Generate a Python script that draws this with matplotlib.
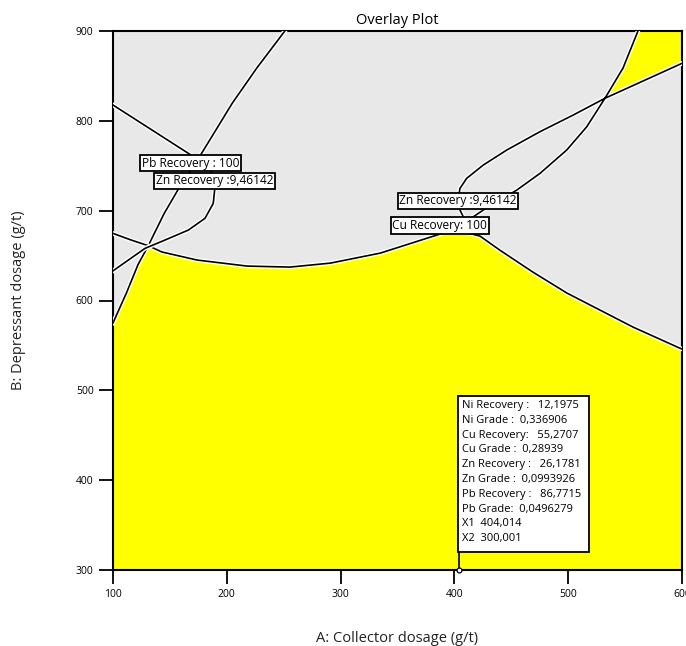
import numpy as np
import matplotlib
matplotlib.use('Agg')
import matplotlib.pyplot as plt
import matplotlib.patheffects as pe
from matplotlib.patches import Rectangle

plt.rcParams['font.family'] = ['Open Sans', 'DejaVu Sans']

# contour lines (A: collector, B: depressant)
pb_x = [100, 112, 122, 131, 145, 157, 176, 205, 226.5, 251]
pb_y = [575, 609, 640, 661, 697, 723, 760, 820, 859, 900]

cu_x = [100, 116, 131, 143, 174, 218, 255.5, 291, 335, 379, 400, 422.5,
        440, 469, 499, 528, 557, 598, 600]
cu_y = [674.7, 667.3, 661, 654, 645, 638.3, 637.2, 641.6, 652.8, 670.6, 679, 671.7,
        656, 631.6, 608.2, 589.3, 570.4, 547, 546]

znl_x = [100, 166, 182, 188, 189.6, 188.1, 180.8, 166.2, 145.7, 128.1, 100]
znl_y = [817.6, 764, 751, 740, 726.6, 708.1, 691.4, 678.4, 667.3, 658, 633]

znr_up_x = [600, 532.3, 504.5, 475.2, 446, 425.4, 410.8, 404.9, 403.2, 404.9, 407.8, 410.8]
znr_up_y = [864, 825.1, 806.5, 787.9, 767.5, 750.8, 736, 724.8, 711.8, 700.7, 693.2, 689.5]
znr_lo_x = [410.8, 416.6, 425.4, 454.8, 475.2, 498.7, 516.3, 532.3, 548.2, 561.3]
znr_lo_y = [689.5, 693.2, 700.7, 722.9, 741.5, 767.5, 793.4, 825.1, 858.8, 900]

cross_x = 532.3  # where the two arms of the right Zn curve cross
meet_x = 131     # where the Pb line meets the Cu curve

opt_a, opt_b = 404.014, 300.001
opt_lines = [
    "Ni Recovery :   12,1975",
    "Ni Grade :  0,336906",
    "Cu Recovery:   55,2707",
    "Cu Grade :  0,28939",
    "Zn Recovery :   26,1781",
    "Zn Grade :  0,0993926",
    "Pb Recovery :   86,7715",
    "Pb Grade:  0,0496279",
    "X1  404,014",
    "X2  300,001",
]

fig = plt.figure(figsize=(6.86, 6.46), dpi=100)
ax = fig.add_axes([113/686, 1-570/646, 569/686, 539/646])
ax.set_xlim(100, 600)
ax.set_ylim(300, 900)
ax.set_facecolor('#e8e8e8')

yellow = '#ffff00'
# main feasible region: right of the Pb line and under the Cu curve
pbx, pby = np.array(pb_x), np.array(pb_y)
cux, cuy = np.array(cu_x), np.array(cu_y)
keep_pb = pbx <= meet_x
keep_cu = cux > meet_x
poly_x = [100] + list(pbx[keep_pb]) + list(cux[keep_cu]) + [600]
poly_y = [300] + list(pby[keep_pb]) + list(cuy[keep_cu]) + [300]
ax.fill(poly_x, poly_y, color=yellow, lw=0, zorder=1)

# top-right corner region
lox, loy = np.array(znr_lo_x), np.array(znr_lo_y)
sel = lox >= cross_x
ax.fill(list(lox[sel]) + [600, 600], list(loy[sel]) + [900, znr_up_y[0]],
        color=yellow, lw=0, zorder=1)

halo = [pe.Stroke(linewidth=3.2, foreground='white'), pe.Normal()]
for xs, ys in [(pb_x, pb_y), (cu_x, cu_y), (znl_x, znl_y),
               (znr_up_x + znr_lo_x[1:], znr_up_y + znr_lo_y[1:])]:
    ax.plot(xs, ys, color='black', lw=1.2, zorder=3, path_effects=halo,
            solid_joinstyle='round')

lbl = dict(fontsize=8.6, ha='center', va='center', zorder=5,
           bbox=dict(boxstyle='square,pad=0.13', fc='white', ec='black', lw=1.3))
ax.text(168, 753, "Pb Recovery : 100", **lbl)
ax.text(189, 733.5, "Zn Recovery :9,46142", **lbl)
ax.text(403, 711, "Zn Recovery :9,46142", **lbl)
ax.text(387, 683.5, "Cu Recovery: 100", **lbl)

# optimum point with its readout box
ax.plot([opt_a, opt_a], [opt_b, 320], color='black', lw=1.2, zorder=4)
ax.plot(opt_a, opt_b, 'o', ms=3.5, mfc='white', mec='black', mew=0.9, zorder=6, clip_on=False)
ax.add_patch(Rectangle((403.4, 320.2), 114.9, 173.3, fc='white', ec='black', lw=1.3, zorder=4))
ax.text(406.5, 489, "\n".join(opt_lines), fontsize=8, ha='left', va='top',
        linespacing=1.47, zorder=5)

ax.set_title("Overlay Plot", fontsize=10.5, pad=5)
ax.set_xlabel("A: Collector dosage (g/t)", fontsize=10.5, labelpad=22, color='#222222')
ax.set_ylabel("B: Depressant dosage (g/t)", fontsize=10.5, labelpad=36, color='#222222')
ax.set_xticks([100, 200, 300, 400, 500, 600])
ax.set_yticks([300, 400, 500, 600, 700, 800, 900])
ax.tick_params(direction='out', length=10, width=1.3, labelsize=7.5, pad=4)
for s in ax.spines.values():
    s.set_linewidth(1.5)

fig.savefig('out.png', dpi=100)
